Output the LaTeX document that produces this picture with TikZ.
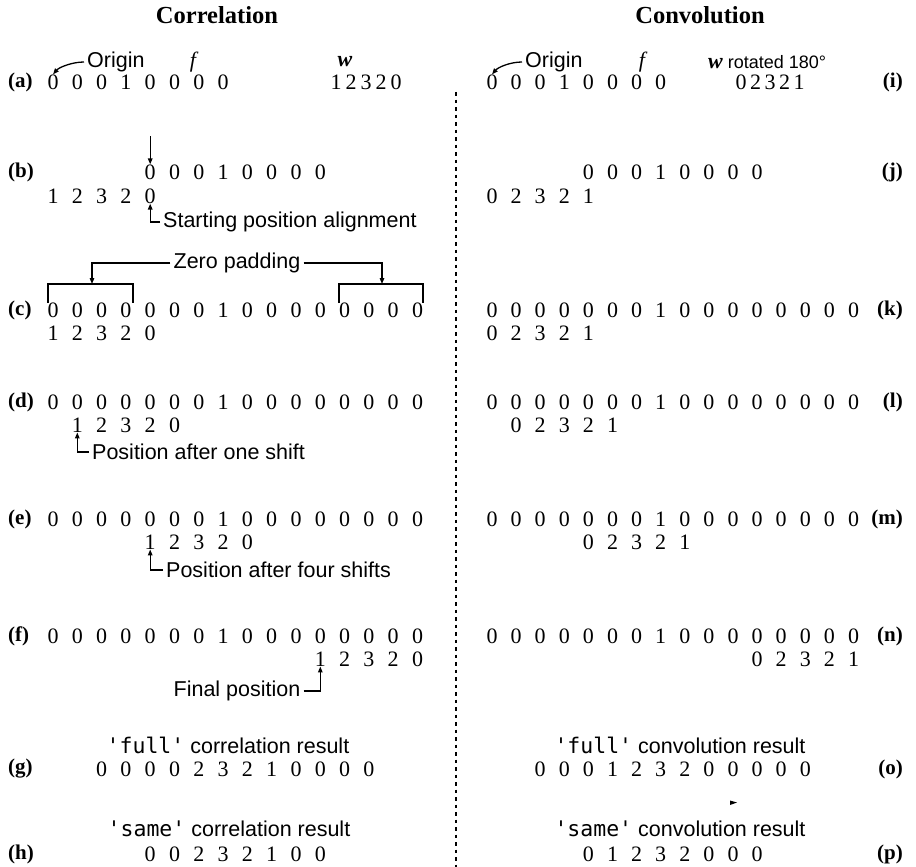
\documentclass[tikz,border=0pt]{standalone}
\usepackage{fontspec}
\setmainfont{Liberation Serif}
\newfontfamily\labf{Liberation Sans}
\newfontfamily\monof{DejaVu Sans Mono}
\usetikzlibrary{arrows.meta,calc}
\newcommand\digrow[5]{%
  \foreach \v [count=\i from 0] in {#5} \node[dig] (#1\i) at ({#2+#3*\i},#4) {\v};}
\begin{document}
\begin{tikzpicture}[x=1pt,y=-1pt,
  dig/.style={inner sep=0pt,font=\fontsize{22}{26}\selectfont},
  lbl/.style={inner sep=0pt,font=\fontsize{21}{25}\selectfont\bfseries},
  ann/.style={inner sep=3pt,font=\labf\fontsize{21.5}{25}\selectfont},
  ttl/.style={inner sep=0pt,font=\fontsize{24.5}{28}\selectfont\bfseries},
  arr/.style={line width=1.3pt,-{Triangle[length=6pt,width=4.5pt]}},
  ln/.style={line width=1.3pt},
  sep/.style={line width=1.8pt,dash pattern=on 3.5pt off 4pt},
  ]
\useasboundingbox (0,0) rectangle (916,867);
% layout constants
\def\xl{53}\def\dl{24.3}
\def\xr{492}\def\dr{24.1}
% titles
\node[ttl] (t1) at (217,15) {Correlation};
\node[ttl] (t2) at (700,15) {Convolution};
% separator
\coordinate (s1) at (456,92);
\coordinate (s2) at (456,867);
\draw[sep] (s1) -- (s2);

% ---------------- row (a) / (i)
\node[lbl,anchor=west] (la) at (8,82) {(a)};
\digrow{af}{\xl}{\dl}{82}{0,0,0,1,0,0,0,0}
\digrow{aw}{336}{15}{82}{1,2,3,2,0}
\node[ann,anchor=west] (ao) at (84,62) {Origin};
\node[dig,font=\fontsize{22}{26}\selectfont\itshape] (afl) at (193,62) {f};
\node[dig,font=\fontsize{22}{26}\selectfont\bfseries\itshape] (awl) at (345,62) {w};
\draw[arr] (ao.west) .. controls +(-12,0) and +(6,-7) .. (af0.north);

\node[lbl,anchor=east] (li) at (903,82) {(i)};
\digrow{if}{\xr}{\dr}{82}{0,0,0,1,0,0,0,0}
\digrow{iw}{741}{14.5}{82}{0,2,3,2,1}
\node[ann,anchor=west] (io) at (522,62) {Origin};
\node[dig,font=\fontsize{22}{26}\selectfont\itshape] (ifl) at (642,62) {f};
\node[ann,anchor=west,inner sep=0pt,font=\labf\fontsize{18}{22}\selectfont] (iwl) at (708,62) {{\fontsize{22}{26}\selectfont\rmfamily\bfseries\itshape w} rotated 180°};
\draw[arr] (io.west) .. controls +(-12,0) and +(6,-7) .. (if0.north);

% ---------------- row (b) / (j)
\node[lbl,anchor=west] (lb) at (8,172) {(b)};
\digrow{bf}{\xl+4*\dl}{\dl}{172}{0,0,0,1,0,0,0,0}
\digrow{bw}{\xl}{\dl}{196}{1,2,3,2,0}
\coordinate (bdn) at ($(bf0)+(0,-36)$);
\draw[arr] (bdn) -- (bf0.north);
\node[ann,anchor=west] (sp) at (160,222) {Starting position alignment};
\draw[arr] (sp.west) -| (bw4.south);

\node[lbl,anchor=east] (lj) at (903,172) {(j)};
\digrow{jf}{\xr+4*\dr}{\dr}{172}{0,0,0,1,0,0,0,0}
\digrow{jw}{\xr}{\dr}{196}{0,2,3,2,1}

% ---------------- row (c) / (k)
\node[lbl,anchor=west] (lc) at (8,310) {(c)};
\digrow{cf}{\xl}{\dl}{310}{0,0,0,0,0,0,0,1,0,0,0,0,0,0,0,0}
\digrow{cw}{\xl}{\dl}{333}{1,2,3,2,0}
\draw[ln] (48,303) |- (133,284) -- (133,303);
\draw[ln] (339,303) |- (423,284) -- (423,303);
\coordinate (brl) at (92,284);
\coordinate (brr) at (382,284);
\node[ann] (zp) at (237,263) {Zero padding};
\draw[arr] (zp.west) -| (brl);
\draw[arr] (zp.east) -| (brr);

\node[lbl,anchor=east] (lk) at (903,310) {(k)};
\digrow{kf}{\xr}{\dr}{310}{0,0,0,0,0,0,0,1,0,0,0,0,0,0,0,0}
\digrow{kw}{\xr}{\dr}{333}{0,2,3,2,1}

% ---------------- row (d) / (l)
\node[lbl,anchor=west] (ld) at (8,402) {(d)};
\digrow{df}{\xl}{\dl}{402}{0,0,0,0,0,0,0,1,0,0,0,0,0,0,0,0}
\digrow{dw}{\xl+\dl}{\dl}{425}{1,2,3,2,0}
\node[ann,anchor=west] (os) at (89,452) {Position after one shift};
\draw[arr] (os.west) -| (dw0.south);

\node[lbl,anchor=east] (ll) at (903,402) {(l)};
\digrow{lf}{\xr}{\dr}{402}{0,0,0,0,0,0,0,1,0,0,0,0,0,0,0,0}
\digrow{lw}{\xr+\dr}{\dr}{425}{0,2,3,2,1}

% ---------------- row (e) / (m)
\node[lbl,anchor=west] (le) at (8,519) {(e)};
\digrow{ef}{\xl}{\dl}{519}{0,0,0,0,0,0,0,1,0,0,0,0,0,0,0,0}
\digrow{ew}{\xl+4*\dl}{\dl}{542}{1,2,3,2,0}
\node[ann,anchor=west] (fs) at (163,570) {Position after four shifts};
\draw[arr] (fs.west) -| (ew0.south);

\node[lbl,anchor=east] (lm) at (903,519) {(m)};
\digrow{mf}{\xr}{\dr}{519}{0,0,0,0,0,0,0,1,0,0,0,0,0,0,0,0}
\digrow{mw}{\xr+4*\dr}{\dr}{542}{0,2,3,2,1}

% ---------------- row (f) / (n)
\node[lbl,anchor=west] (lf) at (8,636) {(f)};
\digrow{ff}{\xl}{\dl}{636}{0,0,0,0,0,0,0,1,0,0,0,0,0,0,0,0}
\digrow{fw}{\xl+11*\dl}{\dl}{659}{1,2,3,2,0}
\node[ann] (fp) at (237,691) {Final position};
\draw[arr] (fp.east) -| (fw0.south);

\node[lbl,anchor=east] (ln) at (903,636) {(n)};
\digrow{nf}{\xr}{\dr}{636}{0,0,0,0,0,0,0,1,0,0,0,0,0,0,0,0}
\digrow{nw}{\xr+11*\dr}{\dr}{659}{0,2,3,2,1}

% ---------------- row (g) / (o)
\node[ann,inner sep=0pt] (gl) at (228,745) {{\monof\textquotesingle full\textquotesingle} correlation result};
\node[lbl,anchor=west] (lg) at (8,769) {(g)};
\digrow{gr}{\xl+2*\dl}{\dl}{769}{0,0,0,0,2,3,2,1,0,0,0,0}

\node[ann,inner sep=0pt] (ol) at (680,745) {{\monof\textquotesingle full\textquotesingle} convolution result};
\node[lbl,anchor=east] (lo) at (903,769) {(o)};
\digrow{or}{\xr+2*\dr}{\dr}{769}{0,0,0,1,2,3,2,0,0,0,0,0}
% small stray mark visible in the reference
\fill (730,800.5) -- (737,802.5) -- (730,805) -- cycle;

% ---------------- row (h) / (p)
\node[ann,inner sep=0pt] (hl) at (229,829) {{\monof\textquotesingle same\textquotesingle} correlation result};
\node[lbl,anchor=west] (lh) at (8,854) {(h)};
\digrow{hr}{\xl+4*\dl}{\dl}{854}{0,0,2,3,2,1,0,0}

\node[ann,inner sep=0pt] (pl) at (680,829) {{\monof\textquotesingle same\textquotesingle} convolution result};
\node[lbl,anchor=east] (lp) at (903,854) {(p)};
\digrow{pr}{\xr+4*\dr}{\dr}{854}{0,1,2,3,2,0,0,0}
\end{tikzpicture}
\end{document}
